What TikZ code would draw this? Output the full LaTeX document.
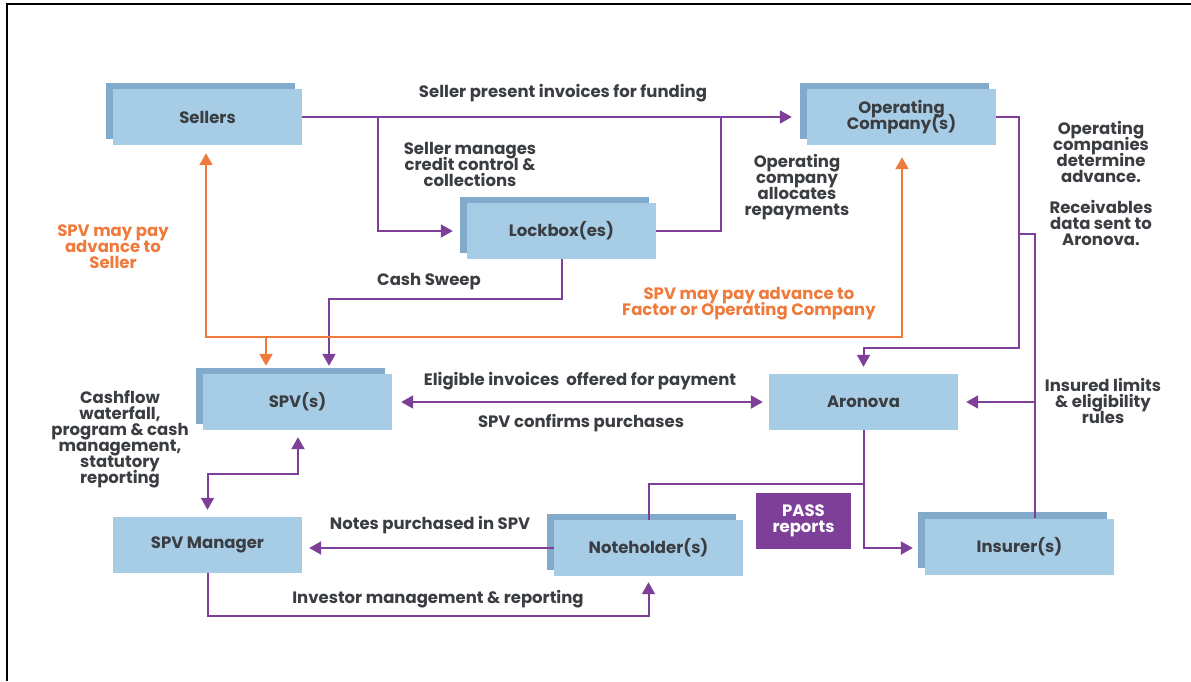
\documentclass[tikz,border=0pt]{standalone}
\usepackage{fontspec}
\setmainfont{Poppins}
\usetikzlibrary{arrows.meta}
\usetikzlibrary{shadows}
\pgfdeclarelayer{nodelayer}
\pgfdeclarelayer{edgelayer}
\pgfsetlayers{nodelayer,edgelayer,main}
\lineskiplimit=-100pt
\definecolor{boxfill}{HTML}{A7CCE5}
\definecolor{boxback}{HTML}{82AACB}
\definecolor{flowpurple}{HTML}{7E3F98}
\definecolor{advorange}{HTML}{EE7A3B}
\definecolor{inktext}{HTML}{3A3D41}
\tikzset{
    none/.style = {inner sep=0pt},
    entity/.style = {rectangle, fill=boxfill, minimum width=189pt, minimum height=56pt,
      inner sep=0pt, text=inktext, align=center, font=\bfseries\fontsize{16.5}{16}\selectfont},
    stacked/.style = {entity, copy shadow={shadow xshift=-7pt, shadow yshift=6.5pt,
      fill=boxback, draw=none, opacity=1}},
    note/.style = {inner sep=0pt, text=inktext, align=center, font=\bfseries\fontsize{16.5}{16}\selectfont},
    orangenote/.style = {note, text=advorange},
    plain/.style = {draw=flowpurple, line width=2pt},
    flow/.style = {plain, -{Triangle[length=12pt,width=13pt]}},
    flowboth/.style = {plain, {Triangle[length=12pt,width=13pt]}-{Triangle[length=12pt,width=13pt]}},
    advance/.style = {draw=advorange, line width=2pt, {Triangle[length=12pt,width=13pt]}-{Triangle[length=12pt,width=13pt]}},
    tipgap/.style = {shorten >=#1},
    tailgap/.style = {shorten <=#1}
}
\begin{document}
\begin{tikzpicture}[x=1pt, y=-1pt]
  \useasboundingbox (0,0) rectangle (1191,681);
  \draw [line width=1.2pt] (7,681) -- (7,4) -- (1191,4);
  \begin{pgfonlayer}{nodelayer}
    \node [stacked] (sellers) at (207.5, 117) {Sellers};
    \node [stacked] (opco) at (901.5, 117) {Operating\\Company(s)};
    \node [stacked] (lockbox) at (561.5, 231) {Lockbox(es)};
    \node [stacked] (spv) at (297.5, 402) {SPV(s)};
    \node [entity] (aronova) at (863.5, 402) {Aronova};
    \node [entity] (spvmgr) at (207.5, 545) {SPV Manager};
    \node [stacked] (noteholder) at (648.5, 548) {Noteholder(s)};
    \node [stacked] (insurer) at (1019.5, 546.5) {Insurer(s)};
    \node [entity, fill=flowpurple, text=white, minimum width=95pt] (pass) at (803.5, 521) {PASS\\reports};
    % turning points
    \node [style=none] (1) at (378, 117) {};
    \node [style=none] (2) at (378, 231) {};
    \node [style=none] (3) at (721, 117) {};
    \node [style=none] (4) at (329, 299) {};
    \node [style=none] (5) at (206, 337) {};
    \node [style=none] (6) at (902, 337) {};
    \node [style=none] (7) at (266, 337) {};
    \node [style=none] (8) at (1019, 117) {};
    \node [style=none] (9) at (1019, 348) {};
    \node [style=none] (10) at (863.5, 348) {};
    \node [style=none] (11) at (1035, 234) {};
    \node [style=none] (12) at (1035, 402) {};
    \node [style=none] (13) at (1019, 234) {};
    \node [style=none] (14) at (298, 474) {};
    \node [style=none] (15) at (207.5, 474) {};
    \node [style=none] (16) at (863.5, 548) {};
    \node [style=none] (17) at (863.5, 484) {};
    \node [style=none] (18) at (648.5, 484) {};
    \node [style=none] (19) at (207.5, 616) {};
    \node [style=none] (20) at (648.5, 616) {};
    % labels
    \node [note] (l1) at (563, 93) {Seller present invoices for funding};
    \node [note] (l2) at (470, 164) {Seller manages\\credit control \&\\collections};
    \node [note] (l3) at (797, 187) {Operating\\company\\allocates\\repayments};
    \node [note] (l4) at (1101, 152) {Operating\\companies\\determine\\advance.};
    \node [note] (l5) at (1101, 223) {Receivables\\data sent to\\Aronova.};
    \node [orangenote] (l6) at (113, 247) {SPV may pay\\advance to\\Seller};
    \node [note] (l7) at (429, 282) {Cash Sweep};
    \node [orangenote] (l8) at (749, 304) {SPV may pay advance to\\Factor or Operating Company};
    \node [note] (l9) at (580, 381) {Eligible invoices\ \ offered for payment};
    \node [note] (l10) at (581, 423) {SPV confirms purchases};
    \node [note] (l11) at (1103, 401) {Insured limits\\\& eligibility\\rules};
    \node [note] (l12) at (120, 439) {Cashflow\\waterfall,\\program \& cash\\management,\\statutory\\reporting};
    \node [note] (l13) at (430, 525) {Notes purchased in SPV};
    \node [note] (l14) at (438, 599) {Investor management \& reporting};
  \end{pgfonlayer}
  \begin{pgfonlayer}{edgelayer}
    \draw [flow, tipgap=15pt] (sellers.east) -- (opco.west);
    \draw [flow, tipgap=14pt] (1.center) -- (2.center) -- (lockbox.west);
    \draw [plain] (lockbox.east) -- (lockbox.east -| 3.center) -- (3.center);
    \draw [flow, tipgap=8pt] (lockbox.south) -- (lockbox.south |- 4.center) -- (4.center) -- (4.center |- spv.north);
    \draw [advance, tailgap=8pt, tipgap=12pt] (5.center |- sellers.south) -- (5.center) -- (6.center) -- (6.center |- opco.south);
    \draw [draw=advorange, line width=2pt, -{Triangle[length=12pt,width=13pt]}, tipgap=8pt] (7.center) -- (7.center |- spv.north);
    \draw [flow, tipgap=7pt] (opco.east) -- (8.center) -- (9.center) -- (10.center) -- (aronova.north);
    \draw [plain] (11.center |- insurer.north) -- (11.center) -- (13.center);
    \draw [flow, tipgap=8pt] (12.center) -- (aronova.east |- 12.center);
    \draw [flowboth, tailgap=9pt, tipgap=6pt] (spv.east) -- (aronova.west);
    \draw [flowboth, tailgap=7pt, tipgap=7pt] (spv.south -| 14.center) -- (14.center) -- (15.center) -- (spvmgr.north);
    \draw [flow, tipgap=12pt] (aronova.south) -- (16.center) -- (insurer.west |- 16.center);
    \draw [plain] (17.center) -- (18.center) -- (noteholder.north);
    \draw [flow, tipgap=7pt] (noteholder.west) -- (spvmgr.east |- noteholder.west);
    \draw [flow, tipgap=6pt] (spvmgr.south) -- (19.center) -- (20.center) -- (noteholder.south);
  \end{pgfonlayer}
\end{tikzpicture}
\end{document}
